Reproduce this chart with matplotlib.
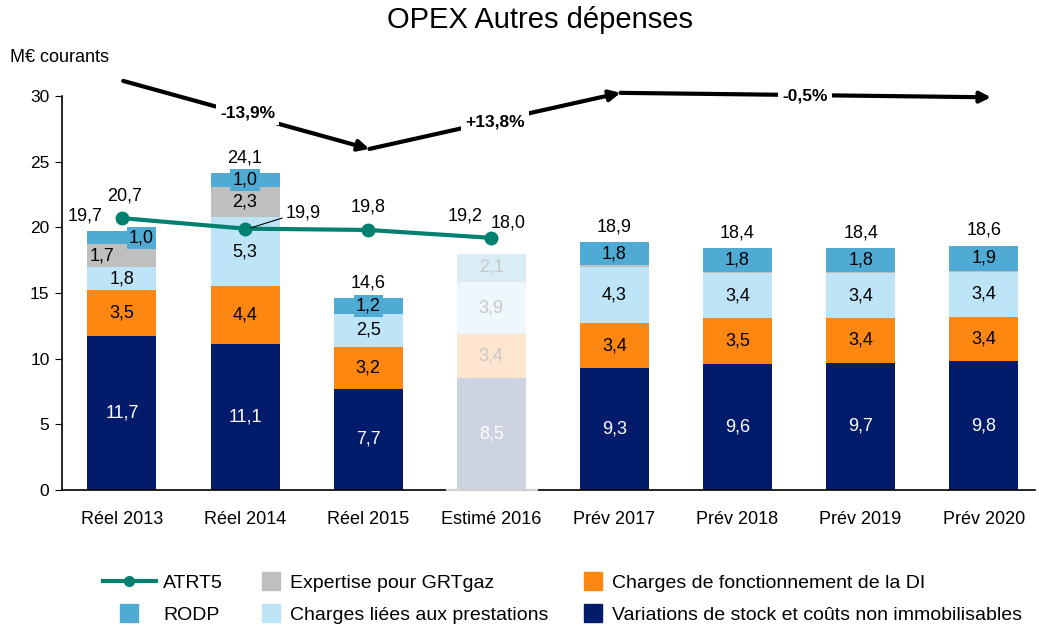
import matplotlib
matplotlib.use("Agg")
import matplotlib.pyplot as plt
from matplotlib.lines import Line2D

plt.rcParams['font.family'] = ['Liberation Sans', 'DejaVu Sans']

years = ['Réel 2013', 'Réel 2014', 'Réel 2015', 'Estimé 2016',
         'Prév 2017', 'Prév 2018', 'Prév 2019', 'Prév 2020']
variations = [11.7, 11.1, 7.7, 8.5, 9.3, 9.6, 9.7, 9.8]
fonctionnement = [3.5, 4.4, 3.2, 3.4, 3.4, 3.5, 3.4, 3.4]
prestations = [1.8, 5.3, 2.5, 3.9, 4.3, 3.4, 3.4, 3.4]
expertise = [1.7, 2.3, 0.0, 0.1, 0.1, 0.1, 0.1, 0.1]
rodp = [1.0, 1.0, 1.2, 2.1, 1.8, 1.8, 1.8, 1.9]
totals = [19.7, 24.1, 14.6, 18.0, 18.9, 18.4, 18.4, 18.6]
atrt5 = [20.7, 19.9, 19.8, 19.2]
evol_labels = ['-13,9%', '+13,8%', '-0,5%']

col_var = '#021c6b'
col_fonc = '#fd8711'
col_prest = '#bde4f7'
col_exp = '#bfbfbf'
col_rodp = '#4fabd4'
col_atrt = '#00806f'
faded = {col_var: '#ced3e1', col_fonc: '#fde6d0', col_prest: '#eef7fc',
         col_exp: '#e6e6e6', col_rodp: '#d9edf6'}

def fmt(v):
    return ('%.1f' % v).replace('.', ',')

fig = plt.figure(figsize=(10.39, 6.25), dpi=100)
ax = fig.add_axes([62 / 1039, 135 / 625, 973 / 1039, 394 / 625])

x = list(range(len(years)))
width = 0.56
series = [(variations, col_var), (fonctionnement, col_fonc),
          (prestations, col_prest), (expertise, col_exp), (rodp, col_rodp)]

bottom = [0.0] * len(years)
for vals, col in series:
    for i, v in enumerate(vals):
        c = faded[col] if i == 3 else col
        ax.bar(i, v, width, bottom=bottom[i], color=c, edgecolor='none', zorder=2)
        if v >= 0.5:
            tc = 'black'
            if col == col_var:
                tc = 'white'
            elif i == 3:
                tc = '#c8c8c8'
            xt = i
            ha = 'center'
            box = None
            if col == col_exp and i == 0:
                xt = i - width / 2 + 0.02
                ha = 'left'
            if col == col_rodp:
                box = dict(facecolor=c, edgecolor='none', pad=1.5)
                if i == 0:
                    xt = i + width / 2 - 0.02
                    ha = 'right'
            ax.text(xt, bottom[i] + v / 2, fmt(v), ha=ha, va='center',
                    color=tc, fontsize=13, bbox=box, zorder=4)
    bottom = [b + v for b, v in zip(bottom, vals)]

# totals above bars
for i, t in enumerate(totals):
    if i == 0:
        ax.text(-0.30, 20.9, fmt(t), ha='center', va='center', fontsize=13)
    elif i == 3:
        ax.text(3.14, 20.3, fmt(t), ha='center', va='center', fontsize=13)
    else:
        ax.annotate(fmt(t), (i, bottom[i]), xytext=(0, 11), textcoords='offset points',
                    ha='center', va='center', fontsize=13)

# ATRT5 line
ax.plot(x[:4], atrt5, color=col_atrt, lw=3, marker='o', markersize=9, zorder=5)
ax.text(0.02, 22.4, fmt(atrt5[0]), ha='center', va='center', fontsize=13)
ax.plot([1.05, 1.30], [19.97, 20.7], color='black', lw=0.8, zorder=6)
ax.text(1.47, 21.1, fmt(atrt5[1]), ha='center', va='center', fontsize=13)
ax.text(2, 21.55, fmt(atrt5[2]), ha='center', va='center', fontsize=13)
ax.text(2.79, 20.9, fmt(atrt5[3]), ha='center', va='center', fontsize=13)

# evolution arrows
pts = [(0.01, 31.15), (2.01, 25.97), (4.05, 30.24), (7.06, 29.9)]
for a, b in zip(pts[:-1], pts[1:]):
    ax.annotate('', xy=b, xytext=a, annotation_clip=False,
                arrowprops=dict(arrowstyle='-|>', color='black', lw=3,
                                mutation_scale=16, shrinkA=0, shrinkB=0))
lab_pos = [(1.02, 28.7), (3.03, 28.0), (5.55, 30.0)]
for (lx, ly), s in zip(lab_pos, evol_labels):
    ax.text(lx, ly, s, ha='center', va='center', fontsize=12.5, fontweight='bold',
            bbox=dict(facecolor='white', edgecolor='none', pad=3), zorder=6)

ax.set_xlim(-0.487, 7.417)
ax.set_ylim(0, 30)
ax.set_yticks(range(0, 31, 5))
ax.set_xticks(x)
ax.set_xticklabels(years, fontsize=13)
ax.tick_params(axis='x', length=0, pad=15)
ax.tick_params(axis='y', direction='out', length=5, labelsize=12.5, pad=4)
for s in ['top', 'right']:
    ax.spines[s].set_visible(False)
ax.spines['left'].set_linewidth(1.2)
ax.spines['bottom'].set_linewidth(1.2)
ax.plot([2.63, 3.38], [0, 0], color='#d0d0d0', lw=1.6, zorder=3, clip_on=False,
        solid_capstyle='butt')

fig.text(0.52, 0.968, 'OPEX Autres dépenses', ha='center', va='center', fontsize=21)
fig.text(10 / 1039, 1 - 58 / 625, 'M€ courants', ha='left', va='center', fontsize=13)

def square(c):
    return Line2D([], [], color=c, marker='s', linestyle='none', markersize=13)

legend_cols = [
    ([Line2D([], [], color=col_atrt, lw=3, marker='o', markersize=7), square(col_rodp)],
     ['ATRT5', 'RODP'], 103, 2.7),
    ([square(col_exp), square(col_prest)],
     ['Expertise pour GRTgaz', 'Charges liées aux prestations'], 260, 1.15),
    ([square(col_fonc), square(col_var)],
     ['Charges de fonctionnement de la DI',
      'Variations de stock et coûts non immobilisables'], 582, 1.15),
]
for hs, ls, left, hl in legend_cols:
    leg = fig.legend(hs, ls, loc='upper left', bbox_to_anchor=(left / 1039, 1 - 574 / 625),
                     frameon=False, fontsize=14, handlelength=hl, handletextpad=0.4,
                     labelspacing=0.75, borderpad=0, borderaxespad=0)

fig.savefig('out.png', dpi=100)
